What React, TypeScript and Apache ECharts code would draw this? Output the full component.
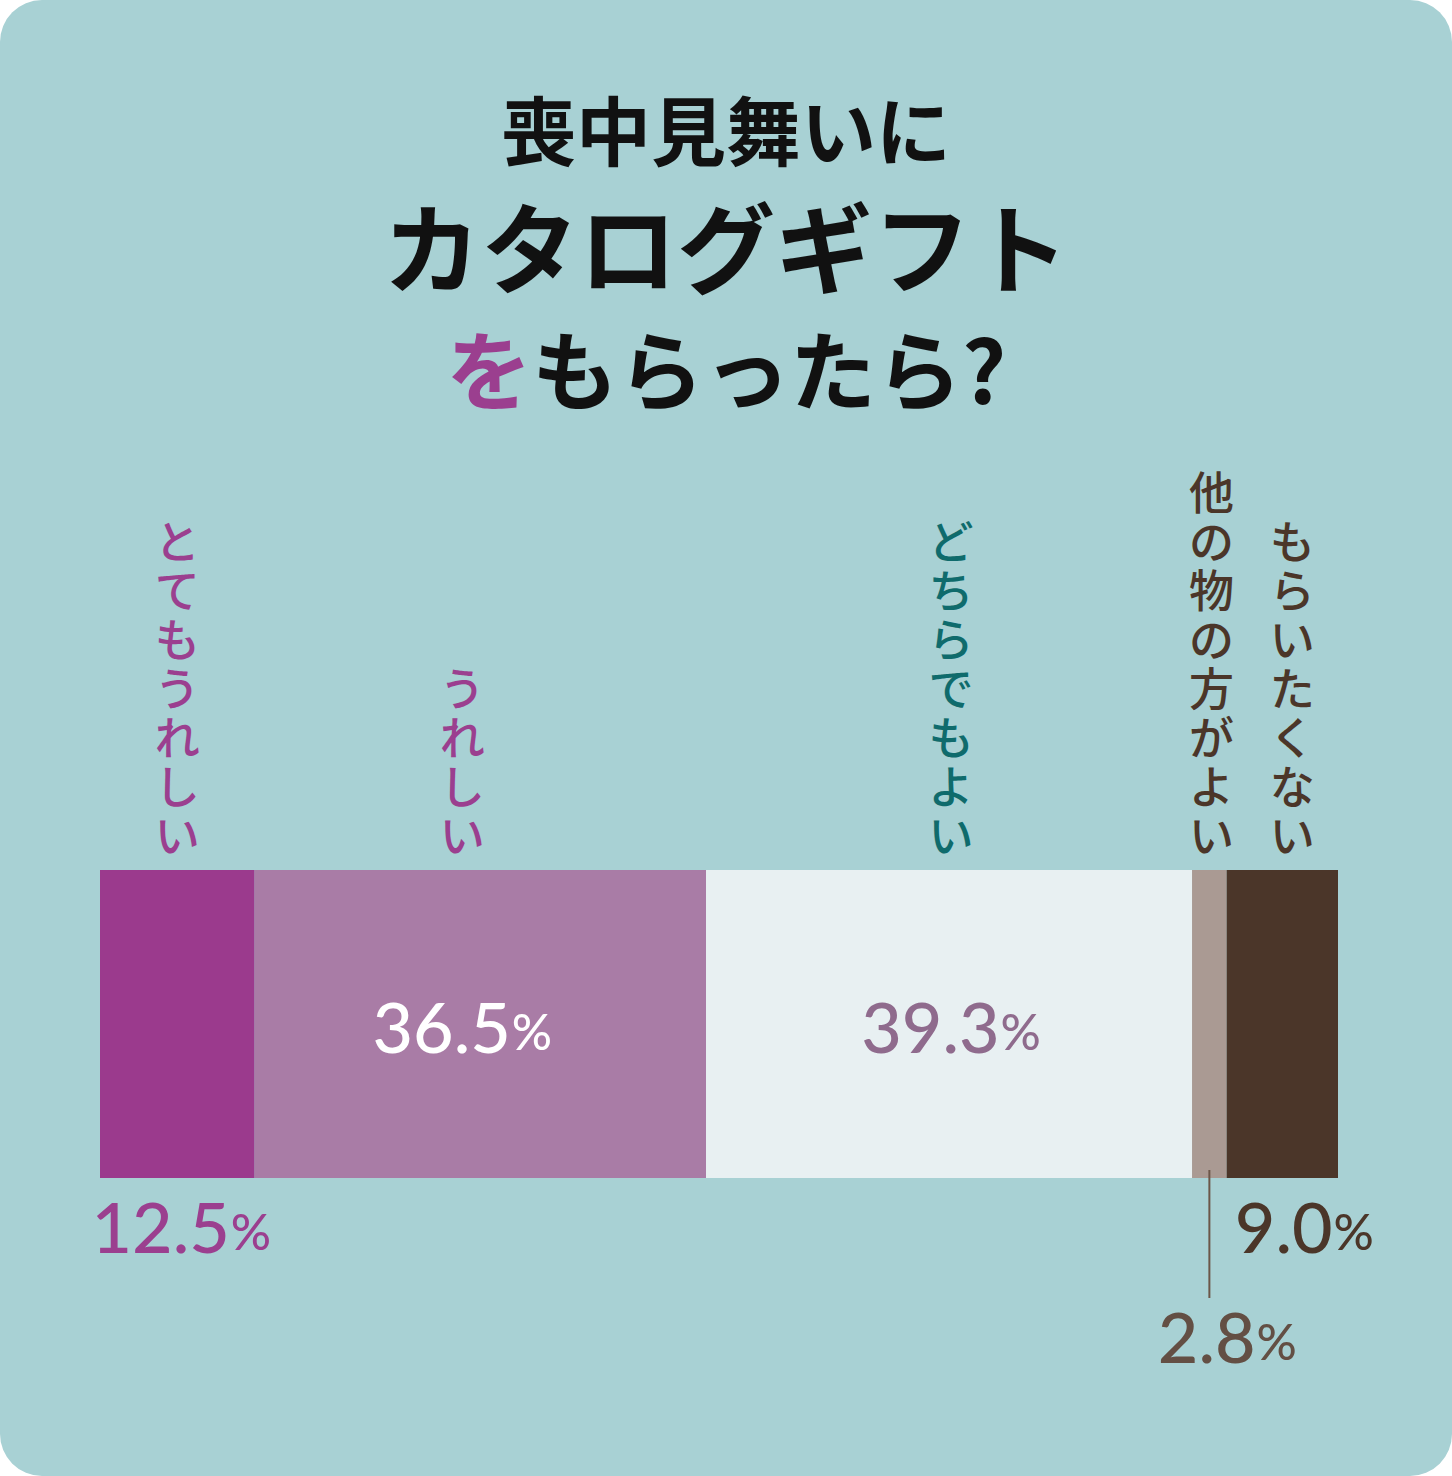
import React, { useEffect, useRef } from "react";
import * as echarts from "echarts";

const categories = ["とてもうれしい", "うれしい", "どちらでもよい", "他の物の方がよい", "もらいたくない"];
const values = [12.5, 36.5, 39.3, 2.8, 9.0];
const titleLine1 = "喪中見舞いに";
const titleLine2 = "カタログギフト";
const titleLine3a = "を";
const titleLine3b = "もらったら?";

const barColors = ["#9b3a8d", "#a97ca6", "#e8f0f2", "#aa9a93", "#4b3629"];
const nameColors = ["#9b3f8f", "#9b3f8f", "#0f6b6c", "#4b3629", "#4b3629"];
const valueColors = ["#9b3f8f", "#ffffff", "#8f6b8d", "#634f44", "#4b3629"];

const W = 1452;
const H = 1476;
const JP = '"Noto Sans CJK JP", "Noto Sans", sans-serif';
const NUM = 'Lato, "Noto Sans", sans-serif';

const valueLabelPos: any[] = [
  { position: "bottom", distance: 10, offset: [4, 0] },
  { position: "inside", offset: [-18, 2] },
  { position: "inside", offset: [2, 2] },
  { position: "bottom", distance: 10, offset: [18, 110] },
  { position: "bottom", distance: 10, offset: [22, 0] },
];
const nameOffsets = [[0, 0], [-18, 0], [2, 0], [2, 0], [10, 0]];

export default function App() {
  const ref = useRef<HTMLDivElement>(null);
  useEffect(() => {
    document.body.style.margin = "0";
    if (!ref.current) return;
    const chart = echarts.init(ref.current, null, { renderer: "svg" });
    const total = values.reduce((a, b) => a + b, 0);

    const valueSeries = values.map((v, i) => ({
      name: categories[i],
      type: "bar",
      stack: "v",
      barWidth: "100%",
      barGap: "-100%",
      data: [v],
      itemStyle: { color: barColors[i] },
      z: 2,
      label: {
        show: true,
        ...valueLabelPos[i],
        formatter: () => `{n|${v.toFixed(1)}}{p|%}`,
        rich: {
          n: { fontFamily: NUM, fontSize: 70, fontWeight: 500, color: valueColors[i], lineHeight: 76 },
          p: { fontFamily: NUM, fontSize: 50, fontWeight: 500, color: valueColors[i], lineHeight: 76, padding: [10, 0, 0, 1] },
        },
      },
    }));

    const nameSeries = values.map((v, i) => ({
      name: categories[i] + "_name",
      type: "bar",
      stack: "n",
      barWidth: "100%",
      barGap: "-100%",
      data: [v],
      itemStyle: { color: "rgba(0,0,0,0)" },
      silent: true,
      z: 1,
      label: {
        show: true,
        position: "top",
        distance: 12,
        offset: nameOffsets[i],
        formatter: () => categories[i].split("").join("\n"),
        fontFamily: JP,
        fontSize: 45,
        fontWeight: 500,
        lineHeight: 49,
        color: nameColors[i],
        align: "center",
      },
    }));

    const option: any = {
      animation: false,
      backgroundColor: "#ffffff",
      grid: { left: 100, right: W - 1338, top: 870, height: 308, containLabel: false },
      xAxis: { type: "value", min: 0, max: total, show: false },
      yAxis: { type: "category", data: ["all"], show: false },
      series: [...valueSeries, ...nameSeries],
      graphic: [
        {
          id: "bg",
          type: "rect",
          z: -10,
          shape: { x: 0, y: 0, width: W, height: H, r: 42 },
          style: { fill: "#a8d1d4" },
        },
        {
          id: "t1",
          type: "text",
          x: W / 2,
          y: 127,
          style: {
            text: titleLine1,
            fontFamily: JP,
            fontSize: 75,
            fontWeight: "bold",
            fill: "#111111",
            align: "center",
            verticalAlign: "middle",
          },
        },
        {
          id: "t2",
          type: "text",
          x: W / 2,
          y: 243,
          style: {
            text: titleLine2,
            fontFamily: JP,
            fontSize: 98,
            fontWeight: "bold",
            fill: "#111111",
            align: "center",
            verticalAlign: "middle",
          },
        },
        {
          id: "t3",
          type: "text",
          x: W / 2,
          y: 366,
          style: {
            text: `{a|${titleLine3a}}{b|${titleLine3b}}`,
            align: "center",
            verticalAlign: "middle",
            rich: {
              a: { fontFamily: JP, fontSize: 86, fontWeight: "bold", fill: "#9b3f8f", color: "#9b3f8f" },
              b: { fontFamily: JP, fontSize: 86, fontWeight: "bold", fill: "#111111", color: "#111111" },
            },
          },
        },
      ],
    };
    chart.setOption(option);

    // leader line for the small segment
    const cum3 = values.slice(0, 3).reduce((a, b) => a + b, 0) + values[3] / 2;
    const px = chart.convertToPixel({ xAxisIndex: 0 }, cum3) as number;
    chart.setOption({
      graphic: [
        {
          id: "leader",
          type: "line",
          z: 10,
          shape: { x1: px, y1: 1170, x2: px, y2: 1298 },
          style: { stroke: "#6b5648", lineWidth: 2 },
        },
      ],
    });

    return () => chart.dispose();
  }, []);
  return <div ref={ref} style={{ width: W, height: H }} />;
}
